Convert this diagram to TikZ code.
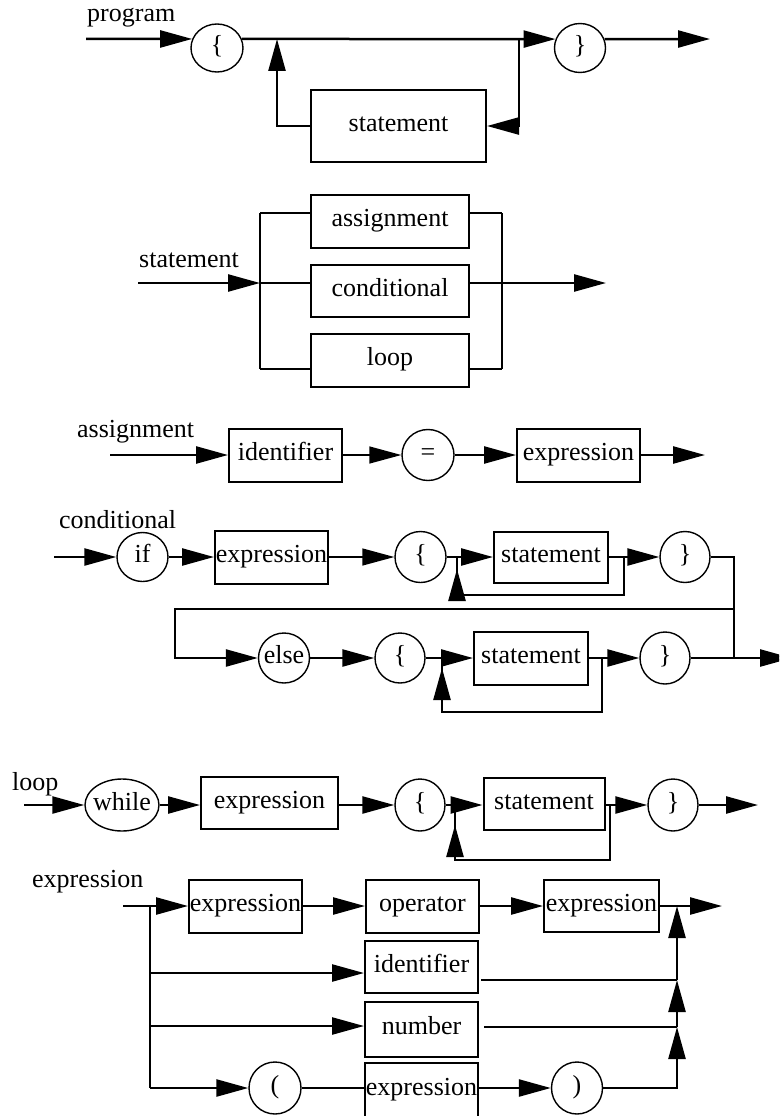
\documentclass[tikz,border=0pt]{standalone}
\usepackage{fontspec}
\setmainfont{Liberation Serif}
\usetikzlibrary{arrows.meta,shapes.geometric,decorations.markings}

\begin{document}
\begin{tikzpicture}[x=1pt,y=-1pt,
  every node/.style={font=\fontsize{26}{30}\selectfont},
  wh/.style 2 args={minimum width=#1pt,minimum height=#2pt},
  box/.style={draw,line width=2pt,inner sep=0pt,text height=14pt,text depth=4pt},
  term/.style={ellipse,draw,line width=1.4pt,inner xsep=-4pt,inner ysep=0pt,text height=14pt,text depth=4pt},
  lbl/.style={anchor=base west,inner sep=0pt},
  thk/.style={line width=2.5pt},
  thn/.style={line width=1.4pt},
  arr/.style={-{Triangle[length=32pt,width=17pt]}},
  midarr/.style={postaction={decorate},decoration={markings,mark=at position -#1pt with {\arrow{Triangle[length=32pt,width=17pt]}}}},
]
\useasboundingbox (0,0) rectangle (779,1116);
\clip (0,0) rectangle (779,1116);
\fill[white] (0,0) rectangle (779,1116);

% ---------------- program ----------------
\node[lbl] (tProg) at (87,22) {program};
\node[term,wh={52}{48}] (pL) at (217,48) {\{};
\node[term,wh={51}{49}] (pR) at (580,48) {\}};
\node[box,wh={175}{72}] (pS) at (398.5,126) {statement};
\coordinate (pIn) at (86,39);
\coordinate (pJ1) at (277,39);
\coordinate (pJ2) at (519,39);
\coordinate (pOut) at (710,39);
\draw[thk,arr] (pIn) -- (pL.160);
\draw[thk,arr] (pL.20) -- (pR.160);
\draw[thk,arr] (pJ2) |- (pS.east);
\draw[thk,arr] (pS.west) -| (pJ1);
\draw[thk,arr] (pR.20) -- (pOut);

% ---------------- statement ----------------
\node[lbl] (tStmt) at (139,267) {statement};
\node[box,wh={158}{53}] (sA) at (390,221.5) {assignment};
\node[box,wh={158}{52}] (sC) at (390,291) {conditional};
\node[box,wh={158}{53}] (sL) at (390,360.5) {loop};
\coordinate (sIn) at (138,283);
\coordinate (sTL) at (260,213);
\coordinate (sML) at (260,283);
\coordinate (sBL) at (260,369);
\coordinate (sTR) at (502,213);
\coordinate (sBR) at (502,369);
\coordinate (sOut) at (606,283);
\draw[thk,arr] (sIn) -- (sML);
\draw[thk] (sTL) -- (sBL);
\draw[thk] (sTR) -- (sBR);
\draw[thn] (sTL) -- (sA.west|-sTL);
\draw[thn] (sA.east|-sTR) -- (sTR);
\draw[thk] (sML) -- (sC.west|-sML);
\draw[thk,arr] (sC.east|-sML) -- (sOut);
\draw[thn] (sBL) -- (sL.west|-sBL);
\draw[thn] (sL.east|-sBR) -- (sBR);

% ---------------- assignment ----------------
\node[lbl] (tAsg) at (77,437) {assignment};
\node[box,wh={113}{53}] (aI) at (285.5,455) {identifier};
\node[term,wh={52}{51}] (aEq) at (428,455) {=};
\node[box,wh={123}{53}] (aE) at (578.5,455) {expression};
\coordinate (aIn) at (110,455);
\coordinate (aOut) at (705,455);
\draw[thk,arr] (aIn) -- (aI.west);
\draw[thn,arr] (aI.east) -- (aEq.west);
\draw[thk,arr] (aEq.east) -- (aE.west);
\draw[thk,arr] (aE.east) -- (aOut);

% ---------------- conditional ----------------
\node[lbl] (tCond) at (59,528) {conditional};
\node[term,wh={51}{49}] (cIf) at (142.5,557) {if};
\node[box,wh={113}{53}] (cE) at (271.5,557) {expression};
\node[term,wh={51}{51}] (cL1) at (420.5,557) {\{};
\node[box,wh={114}{51}] (cS1) at (551,557) {statement};
\node[term,wh={50}{51}] (cR1) at (685,557) {\}};
\coordinate (cIn) at (54,557);
\coordinate (cJ1) at (457,557);
\coordinate (cJ2) at (624,557);
\coordinate (cJ4) at (734,609);
\coordinate (cJ5) at (175,609);

\node[term,wh={51}{50}] (cEl) at (284,658) {else};
\node[term,wh={50}{50}] (cL2) at (400,658) {\{};
\node[box,wh={114}{53}] (cS2) at (531,658.5) {statement};
\node[term,wh={50}{52}] (cR2) at (665,658) {\}};
\coordinate (cK1) at (442,658);
\coordinate (cK2) at (602,658);
\coordinate (cK3) at (734,658);
\coordinate (cOut) at (792,658);

\draw[thk,arr] (cIn) -- (cIf.west);
\draw[thk,arr] (cIf.east) -- (cE.west);
\draw[thn,arr] (cE.east) -- (cL1.west);
\draw[thk] (cL1.east) -- (cJ1);
\draw[thk,arr] (cJ1) -- (cS1.west);
\draw[thk] (cS1.east) -- (cJ2);
\draw[thk,arr] (cJ2) -- (cR1.west);
\draw[thk,midarr=12] (cJ2) -- ++(0,38) -| (cJ1);
\draw[thk] (cR1.east) -| (cK3);
\draw[thk,arr] (cJ4) -- (cJ5) |- (cEl.west);
\draw[thk,arr] (cEl.east) -- (cL2.west);
\draw[thk] (cL2.east) -- (cK1);
\draw[thk,arr] (cK1) -- (cS2.west|-cK1);
\draw[thk] (cS2.east|-cK2) -- (cK2);
\draw[thk,arr] (cK2) -- (cR2.west);
\draw[thk,midarr=10] (cK2) -- ++(0,54) -| (cK1);
\draw[thk,arr] (cR2.east) -- (cOut);

% ---------------- loop ----------------
\node[lbl] (tLoop) at (12,790) {loop};
\node[term,wh={74}{52},inner xsep=-7pt] (lW) at (122,805) {while};
\node[box,wh={137}{52}] (lE) at (269.5,803) {expression};
\node[term,wh={50}{52}] (lL) at (420,805) {\{};
\node[box,wh={121}{52}] (lS) at (544,804) {statement};
\node[term,wh={50}{52}] (lR) at (673,805) {\}};
\coordinate (lIn) at (24,805);
\coordinate (lJ1) at (455,805);
\coordinate (lJ2) at (610,805);
\coordinate (lOut) at (758,805);
\draw[thk,arr] (lIn) -- (lW.west);
\draw[thk,arr] (lW.east) -- (lE.west|-lW.east);
\draw[thk,arr] (lE.east|-lL.west) -- (lL.west);
\draw[thk] (lL.east) -- (lJ1);
\draw[thk,arr] (lJ1) -- (lS.west|-lJ1);
\draw[thk] (lS.east|-lJ2) -- (lJ2);
\draw[thk,arr] (lJ2) -- (lR.west);
\draw[thk,midarr=20] (lJ2) -- ++(0,55) -| (lJ1);
\draw[thk,arr] (lR.east) -- (lOut);

% ---------------- expression ----------------
\node[lbl] (tExpr) at (32,887) {expression};
\node[box,wh={113}{53}] (eE1) at (245.5,906.5) {expression};
\node[box,wh={113}{53}] (eOp) at (422.5,906.5) {operator};
\node[box,wh={115}{52}] (eE3) at (601.5,906) {expression};
\node[box,wh={113}{52}] (eId) at (421.5,967) {identifier};
\node[box,wh={113}{55}] (eNum) at (421.5,1029.5) {number};
\node[term,wh={52}{52}] (eLp) at (275,1088) {(};
\node[box,wh={113}{54}] (eE4) at (421.5,1090) {expression};
\node[term,wh={51}{52}] (eRp) at (577,1088) {)};
\coordinate (eIn) at (123,906);
\coordinate (eJ) at (150,906);
\coordinate (eJId) at (150,973);
\coordinate (eJNum) at (150,1026);
\coordinate (eJLp) at (150,1088);
\coordinate (eIdR) at (481,980);
\coordinate (eNumR) at (484,1027);
\coordinate (eR1) at (677,906);
\coordinate (eR2) at (677,980);
\coordinate (eR3) at (677,1027);
\coordinate (eOut) at (722,906);
\draw[thk,arr] (eIn) -- (eE1.west|-eIn);
\draw[thk] (eJ) -- (eJLp);
\draw[thk,arr] (eJId) -- (eId.west|-eJId);
\draw[thk,arr] (eJNum) -- (eNum.west|-eJNum);
\draw[thk,arr] (eJLp) -- (eLp.west);
\draw[thk,arr] (eE1.east|-eIn) -- (eOp.west|-eIn);
\draw[thk,arr] (eOp.east|-eIn) -- (eE3.west|-eIn);
\draw[thk,arr] (eE3.east|-eIn) -- (eOut);
\draw[thk] (eIdR) -- (eR2);
\draw[thk] (eNumR) -- (eR3);
\draw[thn] (eLp.east) -- (eE4.west|-eLp.east);
\draw[thk,arr] (eE4.east|-eRp.west) -- (eRp.west);
\draw[thk,arr] (eRp.east) -| (eR3);
\draw[thk,arr] (eR3) -- (eR2);
\draw[thk,arr] (eR2) -- (eR1);
\end{tikzpicture}
\end{document}
